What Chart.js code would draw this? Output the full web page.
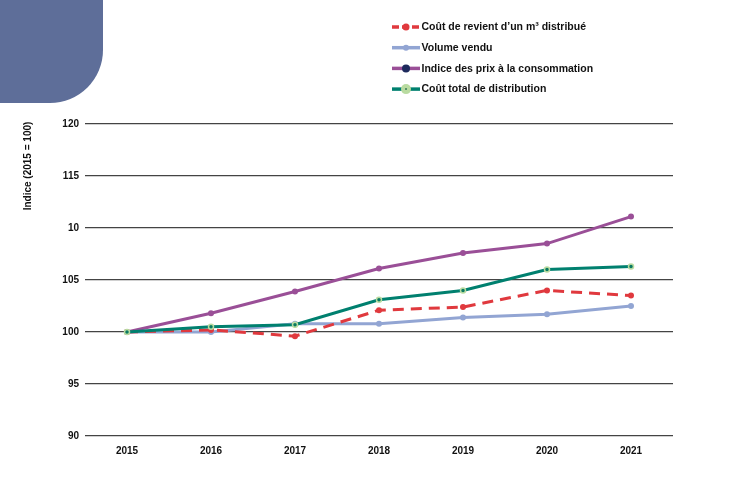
<!DOCTYPE html>
<html>
<head>
<meta charset="utf-8">
<script src="https://cdn.jsdelivr.net/npm/chart.js@4/dist/chart.umd.min.js"></script>
<style>
  html, body { margin: 0; padding: 0; background: #fff; }
  #wrap { width: 737px; height: 500px; position: relative; }
</style>
</head>
<body>
<div id="wrap"><canvas id="chart"></canvas></div>
<script>
// Données (indice base 2015 = 100)
const years = ['2015', '2016', '2017', '2018', '2019', '2020', '2021'];
const coutRevient = [100, 100.2, 99.6, 102.1, 102.4, 104.0, 103.5];
const volumeVendu = [100, 100.0, 100.8, 100.8, 101.4, 101.7, 102.5];
const indicePrix = [100, 101.8, 103.9, 106.1, 107.6, 108.5, 111.1];
const coutTotal = [100, 100.5, 100.7, 103.1, 104.0, 106.0, 106.3];
const yTickLabels = { 90: '90', 95: '95', 100: '100', 105: '105', 110: '10', 115: '115', 120: '120' };

const FONT = '"Liberation Sans", Arial, sans-serif';

const legendItems = [
    { label: 'Coût de revient d\u2019un m\u00b3 distribué', line: '#e0393e', dot: '#e0393e', ring: null, r: 3.5, dash: true },
    { label: 'Volume vendu', line: '#92a5d3', dot: '#92a5d3', ring: null, r: 3, dash: false },
    { label: 'Indice des prix à la consommation', line: '#9a4f97', dot: '#1d2a5c', ring: null, r: 4, dash: false },
    { label: 'Coût total de distribution', line: '#00806f', dot: '#b9dba0', ring: '#3d7a5a', r: 5, dash: false }
];

// fond : forme arrondie en haut à gauche, titre Y, légende
const decorPlugin = {
    id: 'decor',
    beforeDraw(chart) {
        const ctx = chart.ctx;
        ctx.save();
        ctx.fillStyle = '#5e6e99';
        ctx.beginPath();
        ctx.moveTo(0, 0);
        ctx.lineTo(103, 0);
        ctx.lineTo(103, 50);
        ctx.arcTo(103, 103, 50, 103, 53);
        ctx.lineTo(0, 103);
        ctx.closePath();
        ctx.fill();
        ctx.restore();
    },
    afterDraw(chart) {
        const ctx = chart.ctx;
        ctx.save();
        // titre de l'axe Y
        ctx.translate(28, 166);
        ctx.rotate(-Math.PI / 2);
        ctx.fillStyle = '#111';
        ctx.font = 'bold 10px ' + FONT;
        ctx.textAlign = 'center';
        ctx.textBaseline = 'middle';
        ctx.fillText('Indice (2015 = 100)', 0, 0);
        ctx.restore();

        // légende
        ctx.save();
        const x0 = 392, x1 = 420;
        legendItems.forEach((item, i) => {
            const y = 27 + i * 20.7;
            ctx.strokeStyle = item.line;
            ctx.lineWidth = 3.5;
            ctx.setLineDash(item.dash ? [7, 3] : []);
            ctx.beginPath();
            ctx.moveTo(x0, y);
            ctx.lineTo(x1, y);
            ctx.stroke();
            ctx.setLineDash([]);
            ctx.fillStyle = item.dot;
            ctx.beginPath();
            ctx.arc((x0 + x1) / 2, y, item.r, 0, Math.PI * 2);
            ctx.fill();
            if (item.ring) {
                ctx.fillStyle = item.ring;
                ctx.beginPath();
                ctx.arc((x0 + x1) / 2, y, 1, 0, Math.PI * 2);
                ctx.fill();
            }
            ctx.fillStyle = '#111';
            ctx.font = 'bold 10.5px ' + FONT;
            ctx.textAlign = 'left';
            ctx.textBaseline = 'middle';
            ctx.fillText(item.label, x1 + 1.5, y + 0.5);
        });
        ctx.restore();
    }
};

const ctx = document.getElementById('chart').getContext('2d');
new Chart(ctx, {
    type: 'line',
    data: {
        labels: years,
        datasets: [
            {
                label: legendItems[0].label,
                data: coutRevient,
                borderColor: '#e0393e',
                backgroundColor: '#e0393e',
                borderWidth: 3,
                borderDash: [11, 7],
                pointRadius: 3,
                pointBorderWidth: 0,
                tension: 0,
                order: 1
            },
            {
                label: legendItems[1].label,
                data: volumeVendu,
                borderColor: '#92a5d3',
                backgroundColor: '#92a5d3',
                borderWidth: 3,
                pointRadius: 3,
                pointBorderWidth: 0,
                tension: 0,
                order: 2
            },
            {
                label: legendItems[2].label,
                data: indicePrix,
                borderColor: '#9a4f97',
                backgroundColor: '#9a4f97',
                borderWidth: 3,
                pointRadius: 3,
                pointBorderWidth: 0,
                tension: 0,
                order: 3
            },
            {
                label: legendItems[3].label,
                data: coutTotal,
                borderColor: '#00806f',
                backgroundColor: '#00806f',
                pointBackgroundColor: '#0b7a62',
                pointBorderColor: '#b9dba0',
                borderWidth: 3,
                pointRadius: 2.5,
                pointBorderWidth: 1.5,
                tension: 0,
                order: 0
            }
        ]
    },
    options: {
        responsive: true,
        maintainAspectRatio: false,
        animation: false,
        devicePixelRatio: 1,
        layout: { padding: { left: 0, right: 64, top: 124, bottom: 34 } },
        plugins: {
            legend: { display: false },
            tooltip: { enabled: false }
        },
        scales: {
            x: {
                offset: true,
                grid: { display: false, offset: true },
                border: { display: false },
                afterFit(scale) { scale.height = 30; },
                ticks: {
                    color: '#111',
                    font: { family: FONT, size: 10, weight: 'bold' },
                    padding: 1,
                    maxRotation: 0
                }
            },
            y: {
                min: 90,
                max: 120,
                afterFit(scale) { scale.width = 85; },
                border: { display: false },
                grid: { color: '#444', lineWidth: 1.2, drawTicks: false },
                ticks: {
                    stepSize: 5,
                    color: '#111',
                    padding: 6,
                    font: { family: FONT, size: 10, weight: 'bold' },
                    callback: (v) => yTickLabels[v] !== undefined ? yTickLabels[v] : ''
                }
            }
        }
    },
    plugins: [decorPlugin]
});
</script>
</body>
</html>
